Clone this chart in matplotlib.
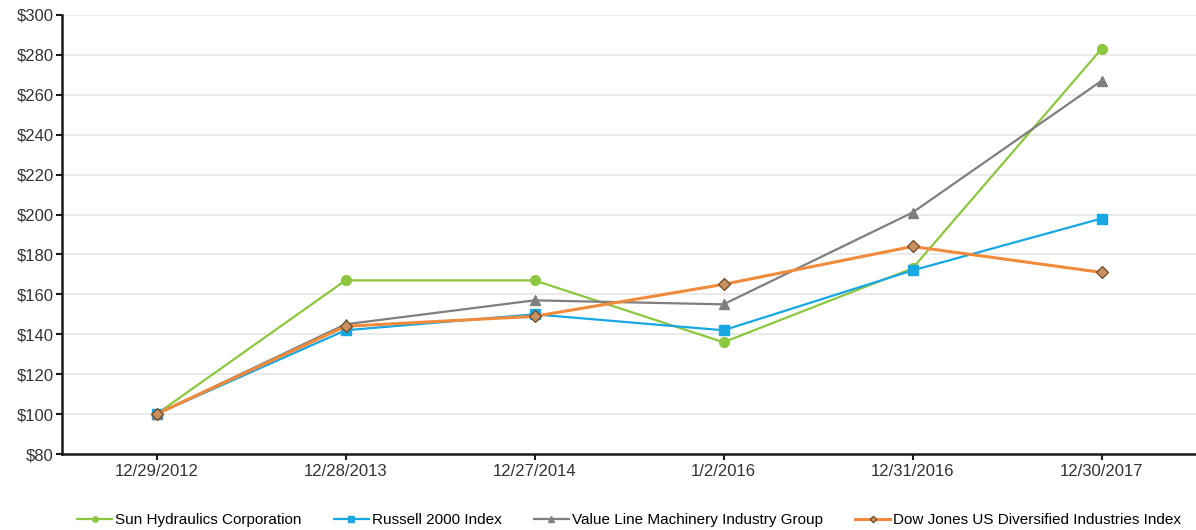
import numpy as np
import matplotlib.pyplot as plt

plt.rcParams["font.family"] = ["Liberation Sans", "DejaVu Sans"]

# Data
dates = ["12/29/2012", "12/28/2013", "12/27/2014", "1/2/2016", "12/31/2016", "12/30/2017"]
sun_hydraulics = [100, 167, 167, 136, 173, 283]
russell_2000 = [100, 142, 150, 142, 172, 198]
value_line = [100, 145, 157, 155, 201, 267]
dow_jones = [100, 144, 149, 165, 184, 171]

x = np.arange(len(dates))

fig = plt.figure(figsize=(11.96, 5.30), dpi=100)
ax = fig.add_axes([62 / 1196, 1 - 454 / 530, (1196 - 62) / 1196, (454 - 15) / 530])

ax.plot(x, sun_hydraulics, color="#8DC63F", linewidth=1.6, marker="o", markersize=7,
        label="Sun Hydraulics Corporation", zorder=3)
ax.plot(x, russell_2000, color="#17A8E3", linewidth=1.6, marker="s", markersize=7.5,
        label="Russell 2000 Index", zorder=3)
ax.plot(x, value_line, color="#7F7F7F", linewidth=1.6, marker="^", markersize=7.5,
        label="Value Line Machinery Industry Group", zorder=3)
ax.plot(x, dow_jones, color="#F28A3C", linewidth=2.2, marker="D", markersize=6,
        markerfacecolor="#C99160", markeredgecolor="#6B4A2A", markeredgewidth=0.9,
        label="Dow Jones US Diversified Industries Index", zorder=4)

ax.set_xlim(-0.5, 5.5)
ax.set_ylim(80, 300)
ax.set_yticks(np.arange(80, 301, 20))
ax.set_yticklabels(["$%d" % v for v in np.arange(80, 301, 20)])
ax.set_xticks(x)
ax.set_xticklabels(dates)

ax.grid(axis="y", color="#E6E6E6", linewidth=1.2)
ax.set_axisbelow(True)
for side in ["top", "right"]:
    ax.spines[side].set_visible(False)
for side in ["left", "bottom"]:
    ax.spines[side].set_linewidth(1.8)
    ax.spines[side].set_color("#1A1A1A")

ax.tick_params(axis="both", labelsize=12, labelcolor="#333333", color="#1A1A1A",
               width=1.5, length=4)
ax.tick_params(axis="x", pad=3)
ax.tick_params(axis="y", pad=2)

fig.legend(loc="center left", bbox_to_anchor=(77 / 1196, 1 - 520 / 530), ncol=4,
           frameon=False, fontsize=11, handlelength=2.3, handletextpad=0.2,
           columnspacing=2.1, borderpad=0, borderaxespad=0, markerscale=0.55)

fig.savefig("out.png", dpi=100)
